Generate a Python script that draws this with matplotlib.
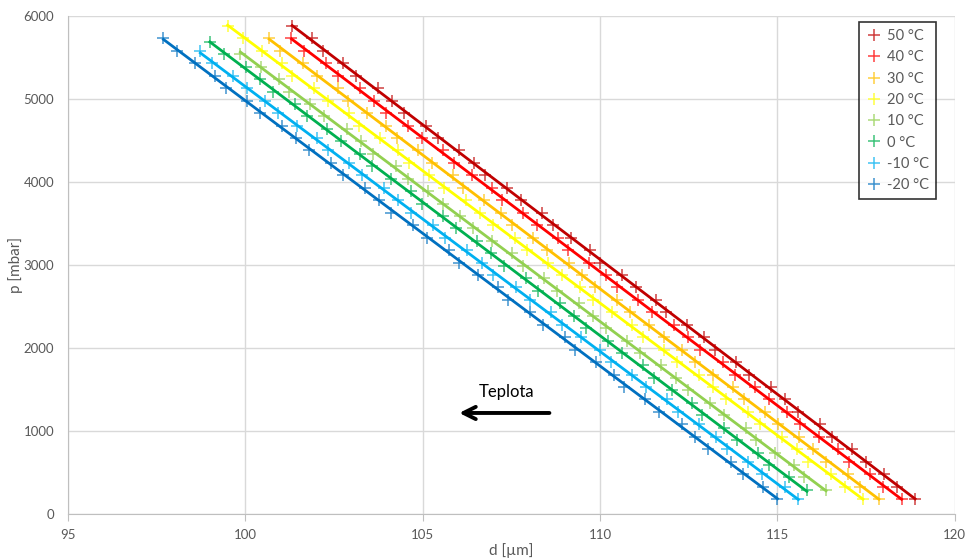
import numpy as np
import matplotlib.pyplot as plt

# pressure levels [mbar]
p_low = [180, 330, 480, 630, 780, 930, 1080, 1230, 1380, 1530, 1680, 1830, 1980,
         2130, 2280, 2430, 2580, 2730, 2880, 3030, 3180, 3330, 3480, 3630, 3780,
         3930, 4080, 4230, 4380, 4530, 4680, 4830, 4980, 5130, 5280, 5430, 5580,
         5730, 5880]
p_high = [290, 440, 590, 740, 890, 1040, 1190, 1340, 1490, 1640, 1790, 1940, 2090,
          2240, 2390, 2540, 2690, 2840, 2990, 3140, 3290, 3440, 3590, 3740, 3890,
          4040, 4190, 4340, 4490, 4640, 4790, 4940, 5090, 5240, 5390, 5540, 5690]

# d [um] per temperature
d_m20 = [115.00, 114.59, 114.02, 113.68, 113.05, 112.69, 112.30, 111.67, 111.27, 110.68,
         110.38, 109.88, 109.29, 109.00, 108.40, 108.02, 107.41, 107.11, 106.57, 106.03,
         105.74, 105.13, 104.74, 104.10, 103.77, 103.37, 102.76, 102.41, 101.79, 101.42,
         101.03, 100.42, 100.04, 99.45, 99.13, 98.59, 98.06, 97.69]
d_m10 = [115.59, 115.20, 114.57, 114.17, 113.58, 113.28, 112.78, 112.19, 111.90, 111.30,
         110.91, 110.30, 110.00, 109.46, 108.92, 108.63, 108.02, 107.63, 106.99, 106.66,
         106.25, 105.64, 105.29, 104.67, 104.30, 103.91, 103.30, 102.92, 102.33, 102.01,
         101.46, 100.93, 100.56, 100.05, 99.64, 99.07, 98.73]
d_0 = [115.83, 115.33, 114.75, 114.46, 113.87, 113.48, 112.87, 112.58, 112.04, 111.51,
       111.22, 110.61, 110.23, 109.59, 109.27, 108.86, 108.25, 107.91, 107.29, 106.93,
       106.54, 105.93, 105.56, 104.97, 104.66, 104.11, 103.58, 103.22, 102.71, 102.31,
       101.74, 101.40, 100.78, 100.41, 100.03, 99.40, 99.00]
d_10 = [116.37, 115.76, 115.46, 114.93, 114.39, 114.10, 113.49, 113.10, 112.47, 112.14,
        111.73, 111.12, 110.77, 110.16, 109.79, 109.40, 108.79, 108.41, 107.83, 107.51,
        106.96, 106.43, 106.06, 105.56, 105.15, 104.58, 104.24, 103.61, 103.25, 102.86,
        102.23, 101.83, 101.24, 100.95, 100.45, 99.86]
d_20 = [117.41, 116.90, 116.51, 115.87, 115.54, 115.13, 114.52, 114.17, 113.55, 113.18,
        112.79, 112.18, 111.80, 111.21, 110.89, 110.34, 109.81, 109.44, 108.93, 108.52,
        107.95, 107.61, 106.98, 106.61, 106.22, 105.59, 105.19, 104.60, 104.30, 103.80,
        103.21, 102.92, 102.32, 101.93, 101.32, 101.02, 100.48, 99.94, 99.50]
d_30 = [117.86, 117.33, 116.98, 116.37, 116.00, 115.62, 115.01, 114.64, 114.05, 113.74,
        113.19, 112.67, 112.30, 111.80, 111.39, 110.83, 110.49, 109.87, 109.50, 109.12,
        108.49, 108.10, 107.51, 107.22, 106.72, 106.14, 105.85, 105.26, 104.87, 104.27,
        103.97, 103.44, 102.90, 102.62, 102.01, 101.63, 100.99, 100.67]
d_40 = [118.50, 117.98, 117.60, 117.02, 116.70, 116.16, 115.63, 115.27, 114.76, 114.36,
        113.79, 113.46, 112.83, 112.47, 112.08, 111.46, 111.06, 110.48, 110.18, 109.69,
        109.10, 108.82, 108.22, 107.84, 107.23, 106.94, 106.40, 105.87, 105.58, 104.98,
        104.59, 103.96, 103.63, 103.23, 102.62, 102.28, 101.66, 101.30]
d_50 = [118.88, 118.36, 118.00, 117.49, 117.09, 116.53, 116.20, 115.58, 115.21, 114.83,
        114.21, 113.82, 113.24, 112.94, 112.45, 111.87, 111.59, 111.00, 110.61, 110.01,
        109.72, 109.19, 108.66, 108.37, 107.77, 107.39, 106.76, 106.44, 106.03, 105.43,
        105.09, 104.48, 104.12, 103.73, 103.13, 102.76, 102.18, 101.87, 101.32]

labels = ['50 °C', '40 °C', '30 °C', '20 °C', '10 °C', '0 °C', '-10 °C', '-20 °C']
series = [(d_50, p_low), (d_40, p_low), (d_30, p_low), (d_20, p_low),
          (d_10, p_high), (d_0, p_high), (d_m10, p_low), (d_m20, p_low)]
colors = ['#C00000', '#FF0000', '#FFC000', '#FFFF00',
          '#92D050', '#00B050', '#00B0F0', '#0070C0']

plt.rcParams['font.family'] = ['Lato', 'DejaVu Sans']
fig = plt.figure(figsize=(9.66, 5.58), dpi=100)
ax = fig.add_axes([0.0704, 0.0789, 0.918, 0.8924])

handles = []
for (d, p), c, lab in zip(series, colors, labels):
    p = p[:len(d)]
    h, = ax.plot(d, p, linestyle='none', marker='+', markersize=8.5,
                 markeredgewidth=1.1, color=c, alpha=0.75, label=lab, zorder=3)
    handles.append(h)
    # linear trend through the points
    k = np.polyfit(d, p, 1)
    xs = np.array([min(d), max(d)])
    ax.plot(xs, np.polyval(k, xs), color=c, lw=2.0, zorder=4)

ax.set_xlim(95, 120)
ax.set_ylim(0, 6000)
ax.set_xticks([95, 100, 105, 110, 115, 120])
ax.set_yticks(range(0, 6001, 1000))
ax.grid(True, color='#D9D9D9', lw=1)
ax.set_axisbelow(True)
for s in ['top', 'right']:
    ax.spines[s].set_visible(False)
for s in ['left', 'bottom']:
    ax.spines[s].set_color('#BFBFBF')
ax.tick_params(axis='x', length=5, color='#BFBFBF', labelcolor='#595959',
               labelsize=9.5, pad=6)
ax.tick_params(axis='y', length=0, labelcolor='#595959', labelsize=9.5, pad=10)
ax.set_xlabel('d [µm]', color='#595959', fontsize=11, labelpad=1)
ax.set_ylabel('p [mbar]', color='#595959', fontsize=11)
ax.yaxis.set_label_coords(-0.051, 0.5)

ax.annotate('', xy=(105.95, 1217), xytext=(108.65, 1217),
            arrowprops=dict(arrowstyle='->', lw=2.8, color='black',
                            mutation_scale=22))
ax.text(107.35, 1470, 'Teplota', ha='center', va='center', fontsize=12,
        color='black')

leg = fig.legend(handles=handles, loc='upper right',
                 bbox_to_anchor=(0.969, 0.961), frameon=True, fancybox=False,
                 edgecolor='black', fontsize=10.5, handlelength=1.0,
                 handletextpad=0.4, labelspacing=0.5, borderpad=0.5,
                 borderaxespad=0)
leg.get_frame().set_linewidth(1.2)
for t in leg.get_texts():
    t.set_color('#595959')

fig.savefig('out.png', dpi=100)
